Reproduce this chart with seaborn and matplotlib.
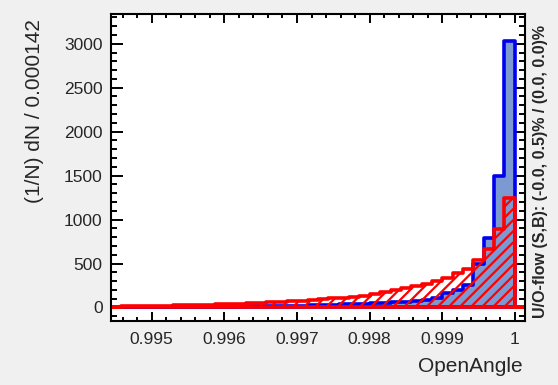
import numpy as np
import pandas as pd
import matplotlib
matplotlib.use('Agg')
import matplotlib.pyplot as plt
from matplotlib.ticker import MultipleLocator, FuncFormatter
import seaborn as sns

# binning of the OpenAngle histogram (40 bins)
x_min = 0.99444
bin_width = 0.0001425

# normalised bin contents
signal = [3, 3, 4, 4, 5, 5, 6, 6, 7, 8,
          9, 10, 11, 12, 14, 15, 17, 19, 21, 24,
          27, 30, 34, 38, 43, 48, 52, 58, 66, 75,
          85, 105, 160, 200, 256, 495, 785, 1500, 3030, 0]
background = [10, 12, 14, 16, 19, 21, 24, 27, 30, 33,
              37, 41, 45, 50, 55, 60, 66, 72, 79, 86,
              94, 103, 113, 124, 136, 150, 172, 195, 220, 240,
              262, 300, 335, 390, 440, 540, 670, 895, 1250, 0]

y_label = '(1/N) dN / 0.000142'
x_label = 'OpenAngle'
flow_text = 'U/O-flow (S,B): (-0.0, 0.5)% / (0.0, 0.0)%'

n_bins = len(signal)
edges = x_min + bin_width * np.arange(n_bins + 1)
centers = edges[:-1] + bin_width / 2
df = pd.DataFrame({'OpenAngle': centers, 'Signal': signal, 'Background': background})

sns.set_style('ticks')
plt.rcParams['font.family'] = ['Liberation Sans', 'DejaVu Sans']
plt.rcParams['hatch.linewidth'] = 1.6
plt.rcParams['hatch.color'] = 'red'

fig = plt.figure(figsize=(5.58, 3.85), dpi=100, facecolor='#f0f0f0')
ax = fig.add_axes([0.199, 0.166, 0.742, 0.798])
ax.set_facecolor('white')

# signal: filled blue
sns.histplot(data=df, x='OpenAngle', weights='Signal', bins=list(edges),
             element='step', fill=True, color='#7d99d1', alpha=1,
             edgecolor='#0000ee', linewidth=2.6, ax=ax)

# background: red hatched
sns.histplot(data=df, x='OpenAngle', weights='Background', bins=list(edges),
             element='step', fill=True, color='#ff0000', facecolor='none', hatch='///',
             edgecolor='#ff0000', linewidth=2.6, ax=ax)

ax.set_xlim(edges[0], edges[-1])
ax.set_ylim(-155, 3340)
ax.set_xlabel('')
ax.set_ylabel('')

ax.xaxis.set_major_locator(MultipleLocator(0.001))
ax.xaxis.set_minor_locator(MultipleLocator(0.0002))
ax.xaxis.set_major_formatter(FuncFormatter(lambda v, p: '%g' % round(v, 6)))
ax.yaxis.set_major_locator(MultipleLocator(500))
ax.yaxis.set_minor_locator(MultipleLocator(100))

ax.tick_params(which='both', direction='in', top=True, right=True,
               width=1.4, color='black', labelsize=12.5)
ax.tick_params(axis='x', which='major', length=6.5, pad=8)
ax.tick_params(axis='x', which='minor', length=3.2)
ax.tick_params(axis='y', which='major', length=8.6, pad=6)
ax.tick_params(axis='y', which='minor', length=4.3)

for s in ax.spines.values():
    s.set_linewidth(1.5)
    s.set_color('black')

fig.text(35 / 558, 1 - 19 / 385, y_label, rotation=90, ha='center', va='top', fontsize=15)
fig.text(523 / 558, 1 - 367 / 385, x_label, ha='right', va='center', fontsize=15)
fig.text(541 / 558, 1 - 172 / 385, flow_text, rotation=90, ha='center', va='center',
         fontsize=11.5, fontweight='bold')

fig.savefig('out.png', dpi=100, facecolor=fig.get_facecolor())
